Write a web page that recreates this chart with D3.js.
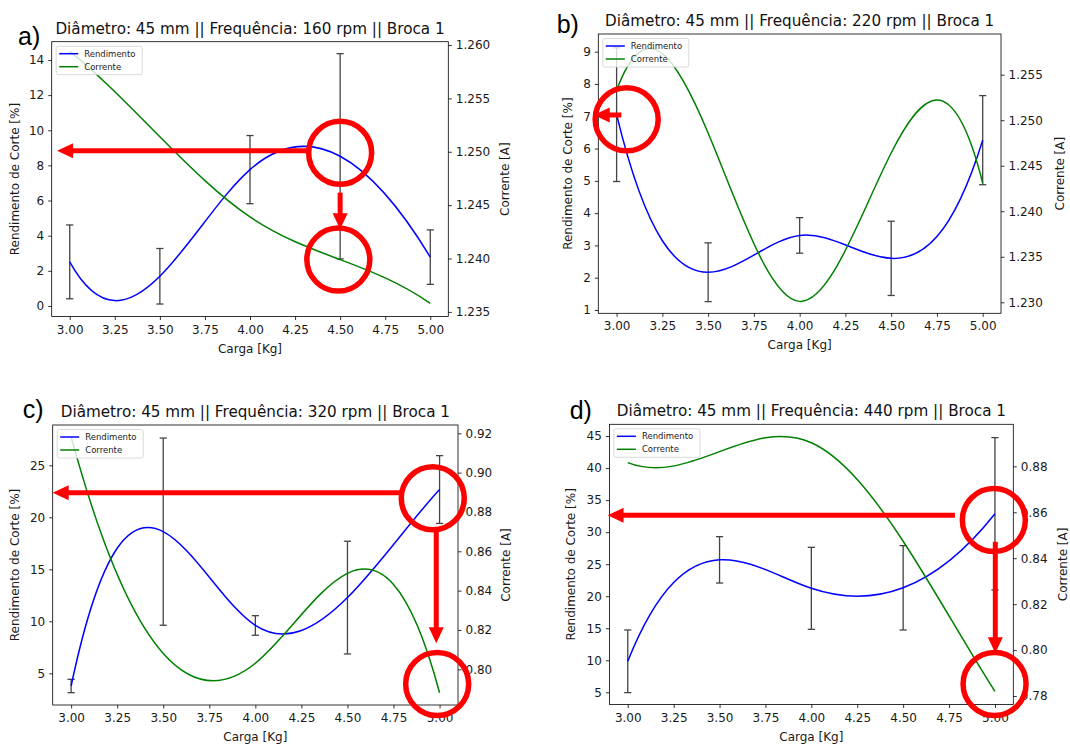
<!DOCTYPE html>
<html>
<head>
<meta charset="utf-8">
<script src="https://cdn.jsdelivr.net/npm/d3@7"></script>
<style>
  body { margin: 0; background: #fff; }
  svg { display: block; }
</style>
</head>
<body>
<div class="chart"></div>
<script>
// data
const carga = [3.0, 3.5, 4.0, 4.5, 5.0]
const xTicks = [3.0, 3.25, 3.5, 3.75, 4.0, 4.25, 4.5, 4.75, 5.0]
const rpms = [160, 220, 320, 440]
const seriesNames = ['Rendimento', 'Corrente']

const rendA = [2.51, 1.69, 7.76, 8.52, 2.78]
const errA = [2.10, 1.58, 1.94, 5.84, 1.55]
const corrA = [1.2594, 1.2514, 1.2439, 1.2399, 1.2358]

const rendB = [7.05, 2.17, 3.31, 2.60, 6.26]
const errB = [2.07, 0.91, 0.55, 1.15, 1.38]
const corrB = [1.2533, 1.2486, 1.2301, 1.2464, 1.2431]

const rendC = [3.78, 18.62, 9.60, 12.28, 22.67]
const errC = [0.64, 9.00, 0.94, 5.42, 3.26]
const corrC = [0.9183, 0.8081, 0.8031, 0.8488, 0.7881]

const rendD = [9.84, 25.68, 21.23, 21.31, 32.86]
const errD = [4.89, 3.62, 6.40, 6.58, 11.89]
const corrD = [0.8816, 0.8864, 0.8903, 0.8474, 0.7820]

const leftTicksA = [0, 2, 4, 6, 8, 10, 12, 14]
const rightTicksA = [1.235, 1.240, 1.245, 1.250, 1.255, 1.260]
const leftTicksB = [1, 2, 3, 4, 5, 6, 7, 8, 9]
const rightTicksB = [1.230, 1.235, 1.240, 1.245, 1.250, 1.255]
const leftTicksC = [5, 10, 15, 20, 25]
const rightTicksC = [0.80, 0.82, 0.84, 0.86, 0.88, 0.90, 0.92]
const leftTicksD = [5, 10, 15, 20, 25, 30, 35, 40, 45]
const rightTicksD = [0.78, 0.80, 0.82, 0.84, 0.86, 0.88]

// red annotations (data units, left axis unless ax:'r')
const circlesA = [{x: 4.5, y: 8.72}, {x: 4.49, y: 1.2399, ax: 'r'}]
const arrowsA = [{x1: 4.316, y1: 8.84, x2: 2.93, y2: 8.84}, {x1: 4.5, y1: 6.45, x2: 4.5, y2: 4.37}]
const circlesB = [{x: 3.055, y: 6.906}]
const arrowsB = [{x1: 3.026, y1: 7.04, x2: 2.875, y2: 7.04}]
const circlesC = [{x: 4.963, y: 21.83}, {x: 4.987, y: 3.97}]
const arrowsC = [{x1: 4.785, y1: 22.37, x2: 2.90, y2: 22.37}, {x1: 4.982, y1: 18.78, x2: 4.982, y2: 7.88}]
const circlesD = [{x: 4.994, y: 31.89}, {x: 4.998, y: 6.30}]
const arrowsD = [{x1: 4.782, y1: 32.62, x2: 2.89, y2: 32.62}, {x1: 5.002, y1: 28.5, x2: 5.002, y2: 11.09}]

// cubic spline with not-a-knot ends, drawn as bezier pieces
class NotAKnot {
  constructor(context) { this._context = context }
  areaStart() {}
  areaEnd() {}
  lineStart() { this._x = []; this._y = [] }
  point(x, y) { this._x.push(+x); this._y.push(+y) }
  lineEnd() {
    const x = this._x, y = this._y, n = x.length, ctx = this._context
    if (!n) return
    ctx.moveTo(x[0], y[0])
    if (n < 4) { for (let i = 1; i < n; i++) ctx.lineTo(x[i], y[i]); return }
    const h = d3.range(n - 1).map(i => x[i + 1] - x[i])
    const A = d3.range(n).map(() => new Array(n).fill(0))
    const r = new Array(n).fill(0)
    A[0][0] = h[1]; A[0][1] = -(h[0] + h[1]); A[0][2] = h[0]
    for (let i = 1; i < n - 1; i++) {
      A[i][i - 1] = h[i - 1]; A[i][i] = 2 * (h[i - 1] + h[i]); A[i][i + 1] = h[i]
      r[i] = 6 * ((y[i + 1] - y[i]) / h[i] - (y[i] - y[i - 1]) / h[i - 1])
    }
    A[n - 1][n - 3] = h[n - 2]; A[n - 1][n - 2] = -(h[n - 3] + h[n - 2]); A[n - 1][n - 1] = h[n - 3]
    // gaussian elimination
    for (let c = 0; c < n; c++) {
      let p = c
      for (let k = c + 1; k < n; k++) if (Math.abs(A[k][c]) > Math.abs(A[p][c])) p = k
      ;[A[c], A[p]] = [A[p], A[c]]; [r[c], r[p]] = [r[p], r[c]]
      for (let k = c + 1; k < n; k++) {
        const f = A[k][c] / A[c][c]
        for (let j = c; j < n; j++) A[k][j] -= f * A[c][j]
        r[k] -= f * r[c]
      }
    }
    const M = new Array(n).fill(0)
    for (let i = n - 1; i >= 0; i--) {
      let s = r[i]
      for (let j = i + 1; j < n; j++) s -= A[i][j] * M[j]
      M[i] = s / A[i][i]
    }
    for (let i = 0; i < n - 1; i++) {
      const hi = h[i], s = (y[i + 1] - y[i]) / hi
      const d0 = s - hi * (2 * M[i] + M[i + 1]) / 6
      const d1 = s + hi * (M[i] + 2 * M[i + 1]) / 6
      ctx.bezierCurveTo(x[i] + hi / 3, y[i] + d0 * hi / 3, x[i + 1] - hi / 3, y[i + 1] - d1 * hi / 3, x[i + 1], y[i + 1])
    }
  }
}
const curveNotAKnot = context => new NotAKnot(context)

const panels = [
  {label: 'a)', rpm: rpms[0], rend: rendA, err: errA, corr: corrA, lt: leftTicksA, rt: rightTicksA, rf: '.3f',
   circles: circlesA, arrows: arrowsA,
   box: [51.7, 41.7, 448.3, 316.5], ld: [-0.6, 15.04], rd: [1.23457, 1.26031], lab: [18, 45], ylo: 37, rlo: 57},
  {label: 'b)', rpm: rpms[1], rend: rendB, err: errB, corr: corrB, lt: leftTicksB, rt: rightTicksB, rf: '.3f',
   circles: circlesB, arrows: arrowsB,
   box: [598.3, 34, 1001, 313.3], ld: [0.898, 9.548], rd: [1.22879, 1.25947], lab: [556.7, 33], ylo: 30, rlo: 58.5},
  {label: 'c)', rpm: rpms[2], rend: rendC, err: errC, corr: corrC, lt: leftTicksC, rt: rightTicksC, rf: '.2f',
   circles: circlesC, arrows: arrowsC,
   box: [52.7, 425, 458, 705], ld: [1.952, 28.875], rd: [0.78186, 0.92422], lab: [22.7, 418], ylo: 38, rlo: 48},
  {label: 'd)', rpm: rpms[3], rend: rendD, err: errD, corr: corrD, lt: leftTicksD, rt: rightTicksD, rf: '.2f',
   circles: circlesD, arrows: arrowsD,
   box: [609.4, 424.3, 1013.3, 704.5], ld: [3.10, 46.83], rd: [0.77631, 0.89831], lab: [569.7, 419], ylo: 38.4, rlo: 49.4}
]

const width = 1070
const height = 747
const font = '"DejaVu Sans", sans-serif'
const red = '#ff0000'

const svg = d3.select('.chart')
  .append('svg')
  .attr('width', width)
  .attr('height', height)

svg.append('rect').attr('width', width).attr('height', height).attr('fill', '#fff')

const annoLayer = []

panels.forEach(p => {
  const [x0, y0, x1, y1] = p.box
  const xScale = d3.scaleLinear().domain([2.9, 5.1]).range([x0, x1])
  const yLeft = d3.scaleLinear().domain(p.ld).range([y1, y0])
  const yRight = d3.scaleLinear().domain(p.rd).range([y1, y0])
  const g = svg.append('g')

  // error bars
  const rows = carga.map((c, i) => ({c, v: p.rend[i], e: p.err[i], a: p.corr[i]}))
  const eb = g.append('g').attr('stroke', '#444').attr('stroke-width', 1.3)
  eb.selectAll('.err')
    .data(rows)
    .join('line')
    .attr('x1', d => xScale(d.c)).attr('x2', d => xScale(d.c))
    .attr('y1', d => yLeft(d.v - d.e)).attr('y2', d => yLeft(d.v + d.e))
  eb.selectAll('.cap')
    .data(rows.flatMap(d => [d.v - d.e, d.v + d.e].map(v => ({c: d.c, v}))))
    .join('line')
    .attr('x1', d => xScale(d.c) - 3.6).attr('x2', d => xScale(d.c) + 3.6)
    .attr('y1', d => yLeft(d.v)).attr('y2', d => yLeft(d.v))

  // curves
  g.append('path')
    .datum(rows)
    .attr('fill', 'none').attr('stroke', '#0000ff').attr('stroke-width', 1.5)
    .attr('d', d3.line().x(d => xScale(d.c)).y(d => yLeft(d.v)).curve(curveNotAKnot))
  g.append('path')
    .datum(rows)
    .attr('fill', 'none').attr('stroke', '#008000').attr('stroke-width', 1.5)
    .attr('d', d3.line().x(d => xScale(d.c)).y(d => yRight(d.a)).curve(curveNotAKnot))

  // axes
  const styleAxis = sel => {
    sel.attr('font-family', font).attr('font-size', 12)
    sel.select('.domain').remove()
    sel.selectAll('.tick line').attr('stroke', '#000').attr('stroke-width', 0.8)
    sel.selectAll('.tick text').attr('fill', '#1a1a1a')
  }
  g.append('g')
    .attr('transform', `translate(0,${y1})`)
    .call(d3.axisBottom(xScale).tickValues(xTicks).tickFormat(d3.format('.2f')).tickSize(3.5).tickPadding(5))
    .call(styleAxis)
  g.append('g')
    .attr('transform', `translate(${x0},0)`)
    .call(d3.axisLeft(yLeft).tickValues(p.lt).tickFormat(d3.format('d')).tickSize(3.5).tickPadding(4))
    .call(styleAxis)
  g.append('g')
    .attr('transform', `translate(${x1},0)`)
    .call(d3.axisRight(yRight).tickValues(p.rt).tickFormat(d3.format(p.rf)).tickSize(3.5).tickPadding(4))
    .call(styleAxis)

  g.append('rect')
    .attr('x', x0).attr('y', y0).attr('width', x1 - x0).attr('height', y1 - y0)
    .attr('fill', 'none').attr('stroke', '#000').attr('stroke-width', 0.8)

  // labels
  g.append('text')
    .attr('x', (x0 + x1) / 2).attr('y', y1 + 36)
    .attr('text-anchor', 'middle').attr('font-family', font).attr('font-size', 12).attr('fill', '#1a1a1a')
    .text('Carga [Kg]')
  g.append('text')
    .attr('transform', `translate(${x0 - p.ylo},${(y0 + y1) / 2}) rotate(-90)`)
    .attr('text-anchor', 'middle').attr('dominant-baseline', 'central')
    .attr('font-family', font).attr('font-size', 12).attr('fill', '#1a1a1a')
    .text('Rendimento de Corte [%]')
  g.append('text')
    .attr('transform', `translate(${x1 + p.rlo},${(y0 + y1) / 2}) rotate(-90)`)
    .attr('text-anchor', 'middle').attr('dominant-baseline', 'central')
    .attr('font-family', font).attr('font-size', 12).attr('fill', '#1a1a1a')
    .text('Corrente [A]')
  g.append('text')
    .attr('x', (x0 + x1) / 2).attr('y', y0 - 8)
    .attr('text-anchor', 'middle').attr('font-family', font).attr('font-size', 15.2).attr('fill', '#111')
    .text(`Diâmetro: 45 mm || Frequência: ${p.rpm} rpm || Broca 1`)
  g.append('text')
    .attr('x', p.lab[0]).attr('y', p.lab[1])
    .attr('font-family', '"Liberation Sans", Arial, sans-serif').attr('font-size', 25).attr('fill', '#000')
    .text(p.label)

  // legend
  const lg = g.append('g').attr('transform', `translate(${x0 + 4.5},${y0 + 4.5})`)
  lg.append('rect')
    .attr('width', 86).attr('height', 28.5).attr('rx', 2)
    .attr('fill', '#fff').attr('fill-opacity', 0.8).attr('stroke', '#d0d0d0').attr('stroke-width', 0.8)
  lg.selectAll('.key')
    .data(seriesNames)
    .join('line')
    .attr('x1', 3).attr('x2', 22)
    .attr('y1', (d, i) => 7.5 + i * 13).attr('y2', (d, i) => 7.5 + i * 13)
    .attr('stroke', (d, i) => i ? '#008000' : '#0000ff').attr('stroke-width', 1.5)
  lg.selectAll('.name')
    .data(seriesNames)
    .join('text')
    .attr('x', 28).attr('y', (d, i) => 7.5 + i * 13)
    .attr('dominant-baseline', 'central')
    .attr('font-family', font).attr('font-size', 8.5).attr('fill', '#222')
    .text(d => d)

  annoLayer.push({p, xScale, yLeft, yRight})
})

// red highlight marks on top of everything
annoLayer.forEach(({p, xScale, yLeft, yRight}) => {
  const ag = svg.append('g')
  ag.selectAll('circle')
    .data(p.circles)
    .join('circle')
    .attr('cx', d => xScale(d.x))
    .attr('cy', d => d.ax === 'r' ? yRight(d.y) : yLeft(d.y))
    .attr('r', 31.5)
    .attr('fill', 'none').attr('stroke', red).attr('stroke-width', 5.5)

  p.arrows.forEach(a => {
    const sx = xScale(a.x1), sy = yLeft(a.y1), tx = xScale(a.x2), ty = yLeft(a.y2)
    const len = Math.hypot(tx - sx, ty - sy)
    const ux = (tx - sx) / len, uy = (ty - sy) / len
    const headL = 16, headW = 7.5
    const bx = tx - ux * headL, by = ty - uy * headL
    ag.append('line')
      .attr('x1', sx).attr('y1', sy).attr('x2', bx + ux).attr('y2', by + uy)
      .attr('stroke', red).attr('stroke-width', 5)
    ag.append('path')
      .attr('d', `M${tx},${ty}L${bx - uy * headW},${by + ux * headW}L${bx + uy * headW},${by - ux * headW}Z`)
      .attr('fill', red)
  })
})
</script>
</body>
</html>
